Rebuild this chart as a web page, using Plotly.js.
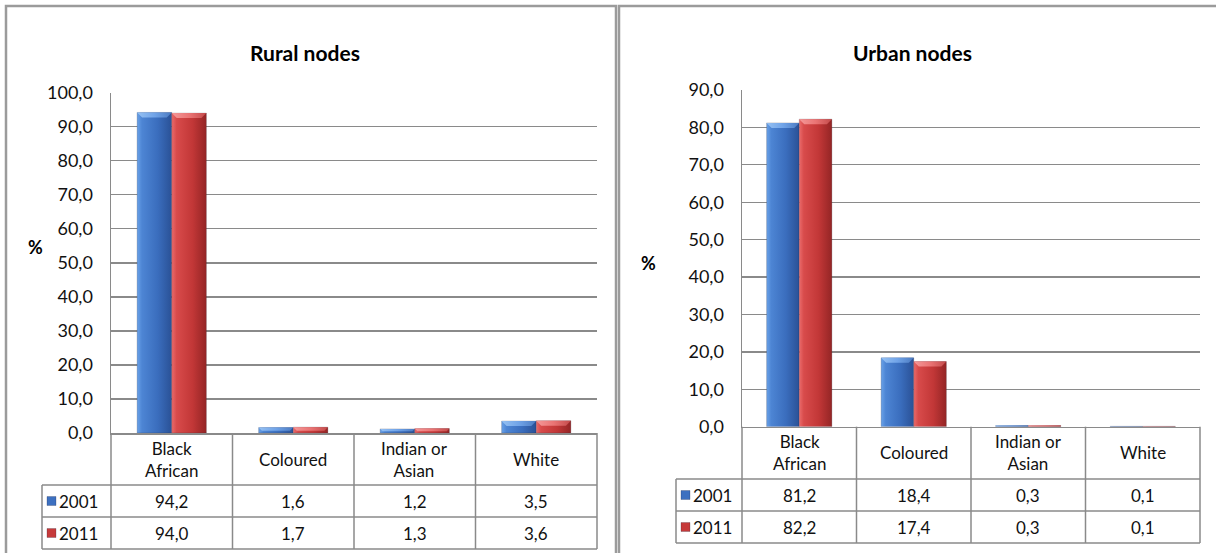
<!DOCTYPE html>
<html>
<head>
<meta charset="utf-8">
<script src="https://cdn.plot.ly/plotly-3.0.1.min.js"></script>
<style>
  html, body { margin: 0; padding: 0; background: #ffffff; }
  #chart { width: 1216px; height: 553px; }
</style>
</head>
<body>
<div id="chart"></div>
<script>
// ---- data -------------------------------------------------------------
const categories = ['Black African', 'Coloured', 'Indian or Asian', 'White'];
const headerLabels = ['Black<br>African', 'Coloured', 'Indian or<br>Asian', 'White'];
const years = ['2001', '2011'];
const rural2001 = [94.2, 1.6, 1.2, 3.5];
const rural2011 = [94.0, 1.7, 1.3, 3.6];
const urban2001 = [81.2, 18.4, 0.3, 0.1];
const urban2011 = [82.2, 17.4, 0.3, 0.1];
const panelTitles = ['Rural nodes', 'Urban nodes'];
const yTitle = '%';

// ---- page geometry (pixels) ---------------------------------------------
const W = 1216, H = 553;
const px = x => x / W;
const py = y => 1 - y / H;

const FONT = 'Lato, "Open Sans", sans-serif';
const GRID = '#8a8a8a';
const BLUE = '#3d70c0';
const RED = '#c63a3a';
const TXT = '#111111';

const panels = [
  {
    title: panelTitles[0], series: [rural2001, rural2011], yMax: 100,
    xa: 'x', ya: 'y', plotL: 111, plotR: 597, plotT: 92.7, plotB: 433,
    tableL: 42, rows: [485, 517, 549], titleX: 305, pctX: 35, pctY: 247,
    frame: [6, 616]
  },
  {
    title: panelTitles[1], series: [urban2001, urban2011], yMax: 90,
    xa: 'x2', ya: 'y2', plotL: 742, plotR: 1200, plotT: 90, plotB: 426.7,
    tableL: 676, rows: [479, 511, 543], titleX: 912, pctX: 648, pctY: 263,
    frame: [619, 1224]
  }
];

const fmt = v => v.toFixed(1).replace('.', ',');
const colors = [BLUE, RED];

// ---- traces -------------------------------------------------------------
const traces = [];
panels.forEach(p => {
  p.series.forEach((vals, k) => {
    traces.push({
      type: 'bar',
      name: years[k],
      x: categories,
      y: vals,
      xaxis: p.xa,
      yaxis: p.ya,
      marker: { color: colors[k], line: { color: 'rgba(40,40,60,0.35)', width: 0.6 } },
      hoverinfo: 'skip',
      showlegend: false
    });
  });
});

// ---- layout: axes, table grid, labels -----------------------------------
const shapes = [];
const annotations = [];
const line = (xref, x0, x1, yref, y0, y1, w) => ({
  type: 'line', xref, yref, x0, x1, y0, y1, layer: 'above',
  line: { color: GRID, width: w || 1.5 }
});

panels.forEach(p => {
  const xd = p.xa + ' domain';
  const [hdrB, r1B, r2B] = p.rows;

  // outer frame of the panel
  shapes.push({
    type: 'rect', xref: 'paper', yref: 'paper',
    x0: px(p.frame[0]), x1: px(p.frame[1]), y0: py(566), y1: py(6),
    line: { color: '#9b9b9b', width: 2.5 }, layer: 'below'
  });

  // table: horizontal rules
  [hdrB, r1B, r2B].forEach(y => {
    shapes.push(line('paper', px(p.tableL), px(p.plotR), 'paper', py(y), py(y)));
  });
  // table: column rules aligned with the category axis
  for (let i = 0; i <= categories.length; i++) {
    shapes.push(line(xd, i / categories.length, i / categories.length, 'paper', py(p.plotB), py(r2B)));
  }
  shapes.push(line('paper', px(p.tableL), px(p.tableL), 'paper', py(hdrB), py(r2B)));

  // column headers
  headerLabels.forEach((lab, i) => {
    annotations.push({
      xref: xd, yref: 'paper', x: (i + 0.5) / categories.length, y: py((p.plotB + hdrB) / 2),
      text: lab, showarrow: false, font: { family: FONT, size: 17, color: TXT },
      xanchor: 'center', yanchor: 'middle', align: 'center'
    });
  });

  // data rows with year keys
  const rowMid = [(hdrB + r1B) / 2, (r1B + r2B) / 2];
  p.series.forEach((vals, k) => {
    shapes.push({
      type: 'rect', xref: 'paper', yref: 'paper',
      x0: px(p.tableL + 5), x1: px(p.tableL + 14),
      y0: py(rowMid[k] + 4.5), y1: py(rowMid[k] - 4.5),
      fillcolor: colors[k], line: { color: 'rgba(30,30,50,0.4)', width: 0.6 }, layer: 'above'
    });
    annotations.push({
      xref: 'paper', yref: 'paper', x: px(p.tableL + 15), y: py(rowMid[k]),
      text: years[k], showarrow: false, font: { family: FONT, size: 17, color: TXT },
      xanchor: 'left', yanchor: 'middle'
    });
    vals.forEach((v, i) => {
      annotations.push({
        xref: xd, yref: 'paper', x: (i + 0.5) / categories.length, y: py(rowMid[k]),
        text: fmt(v), showarrow: false, font: { family: FONT, size: 17, color: TXT },
        xanchor: 'center', yanchor: 'middle'
      });
    });
  });

  // chart title and axis label
  annotations.push({
    xref: 'paper', yref: 'paper', x: px(p.titleX), y: py(53),
    text: '<b>' + p.title + '</b>', showarrow: false,
    font: { family: FONT, size: 21, color: '#000000' }, xanchor: 'center', yanchor: 'middle'
  });
  annotations.push({
    xref: 'paper', yref: 'paper', x: px(p.pctX), y: py(p.pctY),
    text: '<b>' + yTitle + '</b>', showarrow: false,
    font: { family: FONT, size: 18, color: '#000000' }, xanchor: 'center', yanchor: 'middle'
  });
});

const xAxisBase = p => ({
  domain: [px(p.plotL), px(p.plotR)],
  type: 'category', categoryarray: categories,
  range: [-0.5, categories.length - 0.5],
  showticklabels: false, ticks: '', showgrid: false, zeroline: false,
  showline: true, linecolor: GRID, linewidth: 1.5,
  anchor: p.ya, fixedrange: true
});
const yAxisBase = p => ({
  domain: [py(p.plotB), py(p.plotT)],
  range: [0, p.yMax], dtick: 10, tick0: 0, tickformat: '.1f',
  showgrid: true, gridcolor: GRID, gridwidth: 1.3,
  zeroline: false, showline: true, linecolor: GRID, linewidth: 1.5,
  ticks: '', ticklabelstandoff: 13,
  tickfont: { family: FONT, size: 18, color: TXT },
  anchor: p.xa, fixedrange: true
});

const layout = {
  width: W, height: H,
  margin: { l: 0, r: 0, t: 0, b: 0, pad: 0 },
  paper_bgcolor: '#ffffff', plot_bgcolor: '#ffffff',
  separators: ',.',
  barmode: 'group', bargap: 0.43, bargroupgap: 0,
  showlegend: false, hovermode: false,
  xaxis: xAxisBase(panels[0]), yaxis: yAxisBase(panels[0]),
  xaxis2: xAxisBase(panels[1]), yaxis2: yAxisBase(panels[1]),
  shapes, annotations
};

// bevelled, cylinder-like shading for the bars
function shadeBars(gd) {
  const svg = gd.querySelector('svg.main-svg');
  const ns = 'http://www.w3.org/2000/svg';
  let defs = svg.querySelector('defs');
  if (!defs) { defs = document.createElementNS(ns, 'defs'); svg.insertBefore(defs, svg.firstChild); }
  const grad = (id, stops) => {
    const g = document.createElementNS(ns, 'linearGradient');
    g.setAttribute('id', id);
    g.setAttribute('x1', '0'); g.setAttribute('x2', '1');
    g.setAttribute('y1', '0'); g.setAttribute('y2', '0');
    stops.forEach(([o, c]) => {
      const s = document.createElementNS(ns, 'stop');
      s.setAttribute('offset', o); s.setAttribute('stop-color', c);
      g.appendChild(s);
    });
    defs.appendChild(g);
  };
  grad('barBlue', [[0, '#6aa2e8'], [0.14, '#4d85d4'], [0.6, '#3a6dbd'], [1, '#2a5196']]);
  grad('barRed', [[0, '#ea6b6b'], [0.14, '#d84b4b'], [0.6, '#c23737'], [1, '#942525']]);
  grad('capBlue', [[0, '#9cc6f5'], [0.5, '#76a9ec'], [1, '#4f7fc6']]);
  grad('capRed', [[0, '#f7a0a0'], [0.5, '#ee7b7b'], [1, '#c84e4e']]);

  gd.querySelectorAll('.barlayer .trace').forEach(tr => {
    const d = tr.__data__;
    const col = d && d[0] && d[0].trace ? d[0].trace.marker.color : null;
    const isBlue = col === BLUE;
    tr.querySelectorAll('.point').forEach(pt => {
      const path = pt.querySelector('path');
      if (!path) return;
      path.style.fill = 'url(#' + (isBlue ? 'barBlue' : 'barRed') + ')';
      // chamfered top edge
      const b = path.getBBox();
      if (b.height < 0.5) return;
      const e = Math.min(5, b.height * 0.6, b.width / 3);
      const cap = document.createElementNS(ns, 'path');
      cap.setAttribute('d',
        'M' + b.x + ',' + b.y + 'H' + (b.x + b.width) +
        'L' + (b.x + b.width - e) + ',' + (b.y + e) +
        'H' + (b.x + e) + 'Z');
      cap.style.fill = 'url(#' + (isBlue ? 'capBlue' : 'capRed') + ')';
      cap.style.opacity = '0.9';
      pt.appendChild(cap);
    });
  });
}

Plotly.newPlot('chart', traces, layout, { staticPlot: true, displayModeBar: false })
  .then(shadeBars);
</script>
</body>
</html>
